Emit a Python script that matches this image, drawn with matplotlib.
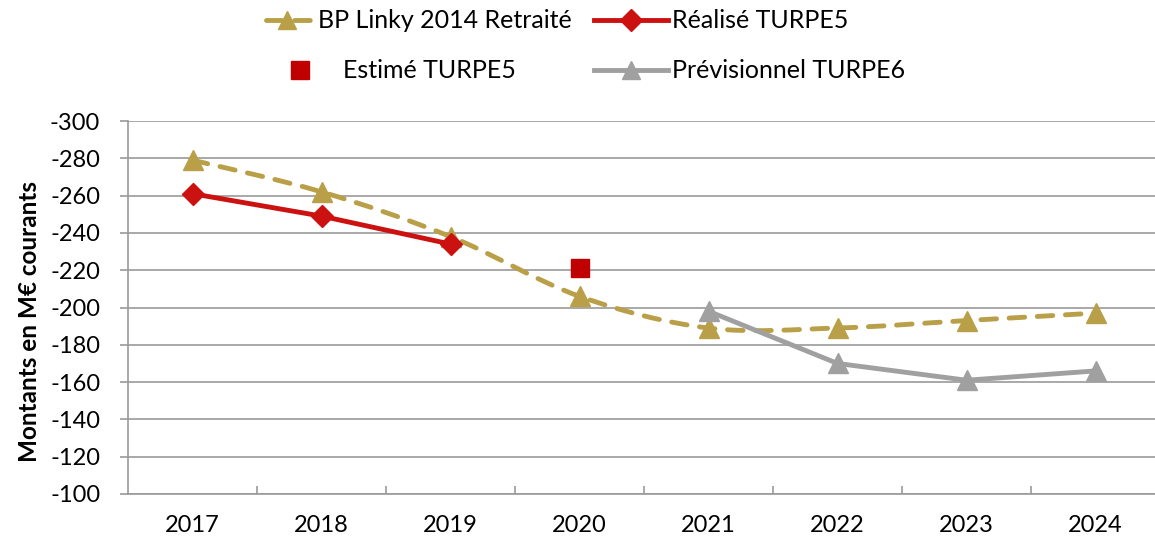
import numpy as np
import matplotlib
matplotlib.use('Agg')
import matplotlib.pyplot as plt
from matplotlib.path import Path
from matplotlib.patches import PathPatch
from matplotlib.lines import Line2D

plt.rcParams['font.family'] = ['Lato', 'DejaVu Sans']

# données (M€ courants)
annees = ['2017', '2018', '2019', '2020', '2021', '2022', '2023', '2024']
bp_linky = [-279, -262, -238, -206, -189, -189, -193, -197]
realise_annees = ['2017', '2018', '2019']
realise = [-261, -249, -234]
estime_annees = ['2020']
estime = [-221]
previsionnel_annees = ['2021', '2022', '2023', '2024']
previsionnel = [-198, -170, -161, -166]
graduations = [-300, -280, -260, -240, -220, -200, -180, -160, -140, -120, -100]

OR = '#B9A048'
ROUGE = '#CC1111'
ROUGE_FONCE = '#C00000'
GRIS = '#A0A0A0'
GRILLE = '#9A9A9A'
TIRETS = (0, (3.2, 2.6))


def courbe_lissee(x, y):
    # courbe de Catmull-Rom (lissage façon Excel) passant par les points
    p = np.column_stack([x, y]).astype(float)
    ext = np.vstack([p[0], p, p[-1]])
    verts = [p[0]]
    codes = [Path.MOVETO]
    for i in range(len(p) - 1):
        p0, p1, p2, p3 = ext[i], ext[i + 1], ext[i + 2], ext[i + 3]
        verts += [p1 + (p2 - p0) / 6, p2 - (p3 - p1) / 6, p2]
        codes += [Path.CURVE4] * 3
    return Path(verts, codes)


pos = {a: i for i, a in enumerate(annees)}

fig = plt.figure(figsize=(11.55, 5.42), dpi=100)
ax = fig.add_axes([128 / 1155, 48 / 542, 1032 / 1155, 373 / 542])

# BP Linky : courbe lissée en pointillés
x_bp = [pos[a] for a in annees]
ax.add_patch(PathPatch(courbe_lissee(x_bp, bp_linky), fill=False, edgecolor=OR,
                       lw=3.5, linestyle=TIRETS, capstyle='round', zorder=2))
ax.plot(x_bp, bp_linky, ls='none', marker='^', ms=14, color=OR, zorder=3)

ax.plot([pos[a] for a in realise_annees], realise, color=ROUGE, lw=3.5,
        marker='D', ms=11, zorder=4)
ax.plot([pos[a] for a in estime_annees], estime, ls='none', marker='s',
        ms=13, color=ROUGE_FONCE, zorder=5)
ax.plot([pos[a] for a in previsionnel_annees], previsionnel, color=GRIS, lw=3.5,
        marker='^', ms=14, zorder=6)

ax.set_xlim(-0.5, 7.5)
ax.set_ylim(-100, -300)
ax.set_xticks(range(len(annees)))
ax.set_xticklabels(annees, fontsize=17)
ax.set_xticks(np.arange(0.5, 7), minor=True)
ax.set_yticks(graduations)
ax.set_yticklabels([str(v) for v in graduations], fontsize=17)

ax.tick_params(axis='x', which='major', length=0, pad=15)
ax.tick_params(axis='x', which='minor', direction='in', length=6,
               width=1.2, color=GRILLE)
ax.tick_params(axis='y', direction='out', length=6, width=1.2, color=GRILLE, pad=14)

for s in ['top', 'right']:
    ax.spines[s].set_visible(False)
for s in ['left', 'bottom']:
    ax.spines[s].set_color(GRILLE)
    ax.spines[s].set_linewidth(1.2)
ax.grid(axis='y', color=GRILLE, lw=1.2)
ax.set_axisbelow(True)

fig.text(30 / 1155, 1 - 322 / 542, 'Montants en M€ courants', rotation=90,
         fontsize=17.5, fontweight='bold', ha='center', va='center')

# légende dessinée à la main (deux lignes, deux colonnes)
W, H = 1155, 542
TAILLE_LEG = 18


def entree(x0, x1, y, texte, x_texte, **style):
    yf = 1 - y / H
    fig.add_artist(Line2D([x0 / W, x1 / W], [yf, yf], transform=fig.transFigure,
                          **style))
    fig.text(x_texte / W, yf, texte, fontsize=TAILLE_LEG, va='center', ha='left')


entree(266, 310, 20, 'BP Linky 2014 Retraité', 318, color=OR, lw=3.5,
       linestyle=TIRETS, solid_capstyle='round', dash_capstyle='round')
fig.add_artist(Line2D([287 / W], [1 - 20 / H], transform=fig.transFigure,
                      ls='none', marker='^', ms=13, color=OR))
entree(594, 668, 20, 'Réalisé TURPE5', 672, color=ROUGE, lw=3.5)
fig.add_artist(Line2D([631 / W], [1 - 20 / H], transform=fig.transFigure,
                      ls='none', marker='D', ms=11, color=ROUGE))
fig.add_artist(Line2D([300 / W], [1 - 70 / H], transform=fig.transFigure,
                      ls='none', marker='s', ms=13, color=ROUGE_FONCE))
fig.text(343 / W, 1 - 70 / H, 'Estimé TURPE5', fontsize=TAILLE_LEG, va='center', ha='left')
entree(594, 668, 70, 'Prévisionnel TURPE6', 672, color=GRIS, lw=3.5)
fig.add_artist(Line2D([631 / W], [1 - 70 / H], transform=fig.transFigure,
                      ls='none', marker='^', ms=13, color=GRIS))

fig.savefig('out.png', dpi=100)
